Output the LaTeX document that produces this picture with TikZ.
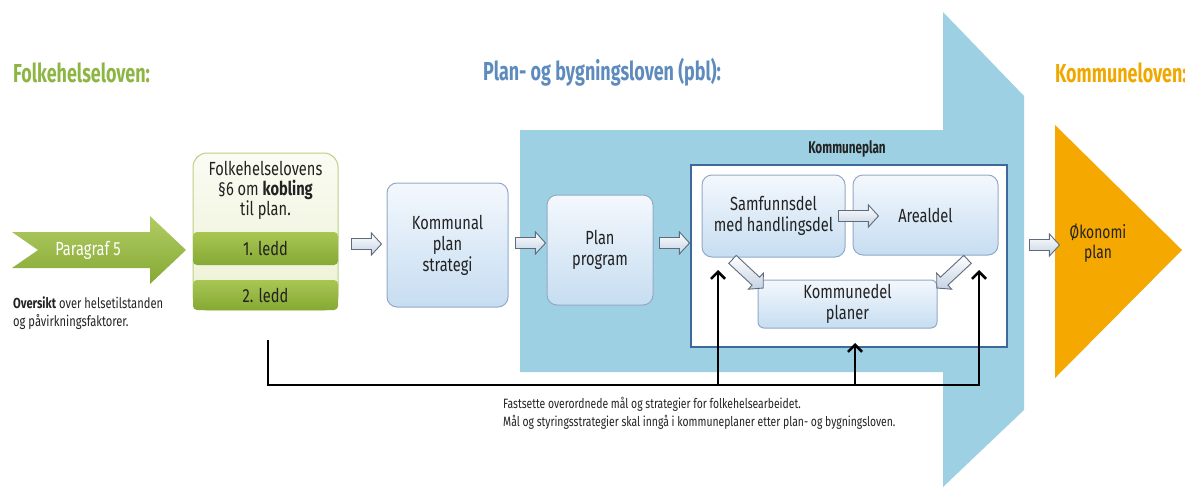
\documentclass[tikz,border=0pt]{standalone}
\usepackage{fontspec}
\setmainfont{Fira Sans}[FakeStretch=0.77]
\newfontfamily\titlefont{Fira Sans}[FakeStretch=0.69]
\usetikzlibrary{shapes.arrows,arrows.meta}
\definecolor{bigblue}{HTML}{9DD0E3}
\definecolor{boxtop}{HTML}{F4F8FD}
\definecolor{boxbot}{HTML}{C6DDF1}
\definecolor{boxborder}{HTML}{93A9C6}
\definecolor{kpborder}{HTML}{3D6A9A}
\definecolor{fbfill}{HTML}{F3F6E1}
\definecolor{fbborder}{HTML}{BDCF82}
\definecolor{bartop}{HTML}{A9C653}
\definecolor{barbot}{HTML}{85A934}
\definecolor{greentitle}{HTML}{8DB544}
\definecolor{bluetitle}{HTML}{5E8BBD}
\definecolor{orangetitle}{HTML}{F0A800}
\definecolor{orangefill}{HTML}{F5A800}
\definecolor{arrowborder}{HTML}{5F6B7C}
\definecolor{arrowbot}{HTML}{C5D2E3}
\definecolor{txt}{HTML}{222222}
\tikzset{
  box/.style={draw=boxborder, line width=1pt, rounded corners=10pt, top color=boxtop, bottom color=boxbot, align=center, font=\fontsize{19}{21}\selectfont, text=txt, inner sep=0pt},
  bar/.style={rounded corners=4pt, top color=bartop, bottom color=barbot, inner sep=0pt, minimum width=145pt, font=\fontsize{19}{21}\selectfont, text=txt},
  hollow/.style={single arrow, draw=arrowborder, line width=0.9pt, top color=white, bottom color=arrowbot, minimum width=22pt, single arrow head extend=5.5pt, single arrow tip angle=95, inner xsep=0pt, inner ysep=5pt},
  feed/.style={line width=2.6pt, black, line join=miter},
  barb/.style={-{Straight Barb[length=7pt,width=14pt,line width=2.6pt]}},
  title/.style={anchor=west, inner sep=0pt, font=\titlefont\bfseries\fontsize{26}{28}\selectfont},
  small/.style={anchor=north west, inner sep=0pt, align=left, text=txt}
}
\begin{document}
\begin{tikzpicture}[x=1pt,y=-1pt]
\useasboundingbox (0,0) rectangle (1185,487);
% big blue arrow
\fill[bigblue] (520,130) -- (943,130) -- (943,12) -- (1024,96) -- (1024,410) -- (943,487) -- (943,372) -- (520,372) -- cycle;
% orange triangle
\fill[orangefill] (1055,125) -- (1182,250) -- (1055,378) -- cycle;
\node[font=\fontsize{18}{20}\selectfont, text=txt, align=center] (oko) at (1098,243) {Økonomi\\plan};
% titles
\node[title, text=greentitle] (t1) at (13,73) {Folkehelseloven:};
\node[title, text=bluetitle] (t2) at (483,72) {Plan- og bygningsloven (pbl):};
\node[title, text=orangetitle] (t3) at (1055,73) {Kommuneloven:};
% Paragraf 5 arrow
\shade[top color=bartop!90!white, bottom color=barbot] (12,232) -- (150,232) -- (150,216) -- (186,250) -- (150,284) -- (150,268) -- (12,268) -- (38,250) -- cycle;
\node[text=white, font=\fontsize{19}{21}\selectfont] (p5) at (88,250) {Paragraf 5};
\node[small, font=\fontsize{14.5}{18}\selectfont] (ov) at (13,297) {\textbf{Oversikt} over helsetilstanden\\og påvirkningsfaktorer.};
% Folkehelse box
\node[draw=fbborder, line width=1pt, top color=white!60!fbfill, bottom color=fbfill!90!bartop, rounded corners=14pt, minimum width=145pt, minimum height=157pt, inner sep=0pt] (fb) at (265.5,231.5) {};
\node[align=center, font=\fontsize{19}{20}\selectfont, text=txt] (fbt) at (265.5,190) {Folkehelselovens\\§6 om \textbf{kobling}\\til plan.};
\node[bar, minimum height=33pt] (l1) at (265.5,248.5) {1. ledd};
\node[bar, minimum height=30pt] (l2) at (265.5,295) {2. ledd};
% boxes
\node[box, minimum width=121pt, minimum height=124pt] (kps) at (447.5,245) {Kommunal\\plan\\strategi};
\node[box, minimum width=106pt, minimum height=110pt] (pp) at (600,250) {Plan\\program};
\node[draw=kpborder, line width=2.5pt, fill=white, minimum width=316pt, minimum height=182pt, inner sep=0pt] (kp) at (849,256) {};
\node[font=\titlefont\bfseries\fontsize{17}{19}\selectfont, text=txt] (kpt) at (847,149) {Kommuneplan};
\node[box, minimum width=143pt, minimum height=82pt] (sd) at (773.5,216) {Samfunnsdel\\med handlingsdel};
\node[box, minimum width=145pt, minimum height=80pt] (ad) at (925.5,215) {Arealdel};
\node[box, minimum width=179pt, minimum height=48pt, rounded corners=6pt] (kdp) at (847.5,304) {Kommunedel\\planer};
% hollow arrows
\node[hollow, minimum height=30pt] (a1) at (364,244) {};
\node[hollow, minimum height=30pt] (a2) at (528,243) {};
\node[hollow, minimum height=30pt] (a3) at (672,243) {};
\node[hollow, minimum height=30pt] (a4) at (1042,245) {};
\node[hollow, minimum height=40pt] (a5) at (856,216) {};
\node[hollow, minimum height=42pt, rotate=-43] (a6) at (746,272) {};
\node[hollow, minimum height=42pt, rotate=-137] (a7) at (954,272) {};
% feedback lines
\coordinate (fs) at (268,340);
\coordinate (bl) at (268,385);
\coordinate (br) at (979,385);
\coordinate (rt) at (979,270);
\coordinate (b1) at (718,385);
\coordinate (u1) at (718,270);
\coordinate (b2) at (855,385);
\coordinate (u2) at (855,343);
\draw[feed, barb] (fs) -- (bl) -- (br) -- (rt);
\draw[feed, barb] (b1) -- (u1);
\draw[feed, barb] (b2) -- (u2);
\node[small, font=\fontsize{13.5}{18}\selectfont] (bt) at (503,397) {Fastsette overordnede mål og strategier for folkehelsearbeidet.\\Mål og styringsstrategier skal inngå i kommuneplaner etter plan- og bygningsloven.};
\end{tikzpicture}
\end{document}
